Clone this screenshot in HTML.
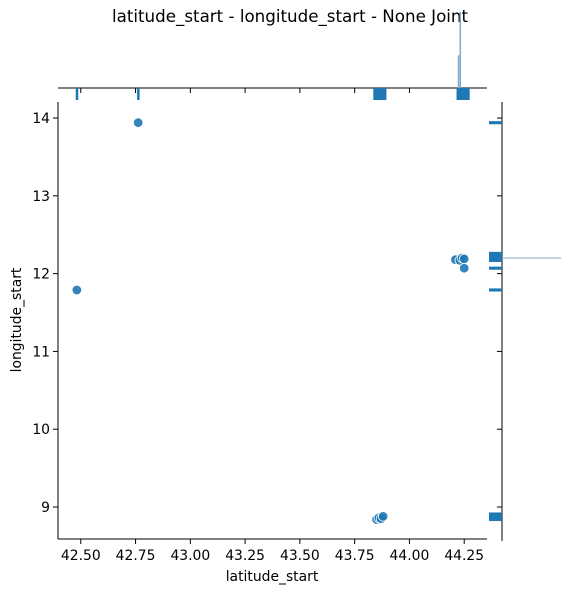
<!DOCTYPE html>
<html><head><meta charset="utf-8"><style>
body{margin:0;background:#fff;width:585px;height:592px;overflow:hidden}
text{font-family:"DejaVu Sans","Liberation Sans",sans-serif;fill:#000}
</style></head><body>
<svg id="c" width="585" height="592"></svg>
<script>
const latValues=[42.482,42.762,43.85,43.86,43.87,43.88,44.21,44.23,44.24,44.25,44.25];
const lonValues=[11.79,13.94,8.84,8.86,8.85,8.88,12.18,12.17,12.2,12.19,12.07];
const xTicks=[42.5,42.75,43.0,43.25,43.5,43.75,44.0,44.25];
const xTickLabels=["42.50","42.75","43.00","43.25","43.50","43.75","44.00","44.25"];
const yTicks=[9,10,11,12,13,14];
const yTickLabels=["9","10","11","12","13","14"];
const topBins=[[42.477,42.487],[42.757,42.767],[43.835,43.895],[44.215,44.275]];
const rightBins=[[13.92,13.96],[12.15,12.28],[12.05,12.09],[11.77,11.81],[8.82,8.93]];
const kdeSpikes=[[44.232,1.0],[44.224,0.43]];
const L=58,R=487,T=102,B=539;
const x=v=>L+(v-42.396)/(44.354-42.396)*(R-L);
const y=v=>B-(v-8.589)/(14.206-8.589)*(B-T);
const s=document.getElementById('c');const NS='http://www.w3.org/2000/svg';
function mk(t,a,p){const e=document.createElementNS(NS,t);for(const k in a)e.setAttribute(k,a[k]);(p||s).appendChild(e);return e;}
let e;
e=mk('text',{x:290,y:22,'font-size':16.7,'text-anchor':'middle'});e.textContent='latitude_start - longitude_start - None Joint';


e=mk('line',{x1:L,y1:T,x2:L,y2:B,stroke:'#000','stroke-width':1});


e=mk('line',{x1:L,y1:B,x2:R,y2:B,stroke:'#000','stroke-width':1});


xTicks.forEach((v,i)=>{
 mk('line',{x1:x(v),y1:B,x2:x(v),y2:B+5,stroke:'#000'});
 mk('line',{x1:x(v),y1:88,x2:x(v),y2:93,stroke:'#000'});
 e=mk('text',{x:x(v),y:B+21,'font-size':13.9,'text-anchor':'middle'});e.textContent=xTickLabels[i];
 
 
});
yTicks.forEach((v,i)=>{
 mk('line',{x1:L-5,y1:y(v),x2:L,y2:y(v),stroke:'#000'});
 mk('line',{x1:497,y1:y(v),x2:502,y2:y(v),stroke:'#000'});
 e=mk('text',{x:L-8,y:y(v)+5,'font-size':13.9,'text-anchor':'end'});e.textContent=yTickLabels[i];
 
 
});
e=mk('text',{x:272,y:581,'font-size':13.9,'text-anchor':'middle'});e.textContent='latitude_start';


e=mk('text',{x:0,y:0,'font-size':13.9,'text-anchor':'middle',transform:'translate(21,320) rotate(-90)'});e.textContent='longitude_start';


latValues.forEach((v,i)=>{
 e=mk('circle',{cx:x(v),cy:y(lonValues[i]),r:4.8,fill:'#1f77b4',stroke:'#fff','stroke-width':0.8,'fill-opacity':0.9});
 
 
});
e=mk('line',{x1:L,y1:88,x2:R,y2:88,stroke:'#000'});


topBins.forEach(b=>{
 e=mk('rect',{x:x(b[0]),y:88,width:Math.max(2.5,x(b[1])-x(b[0])),height:12,fill:'#1f77b4'});
 
 
});
kdeSpikes.forEach(k=>{
 e=mk('line',{x1:x(k[0]),y1:88,x2:x(k[0]),y2:88-76*k[1],stroke:'#7fa8cc','stroke-width':1.5});
 
 
});
e=mk('line',{x1:502,y1:T,x2:502,y2:B+2,stroke:'#000'});


rightBins.forEach(b=>{
 e=mk('rect',{x:489,y:y(b[1]),width:13,height:Math.max(2.5,y(b[0])-y(b[1])),fill:'#1f77b4'});
 
 
});
e=mk('line',{x1:502,y1:y(12.2),x2:561,y2:y(12.2),stroke:'#8fb0cc','stroke-width':1.2});


</script>
</body></html>
